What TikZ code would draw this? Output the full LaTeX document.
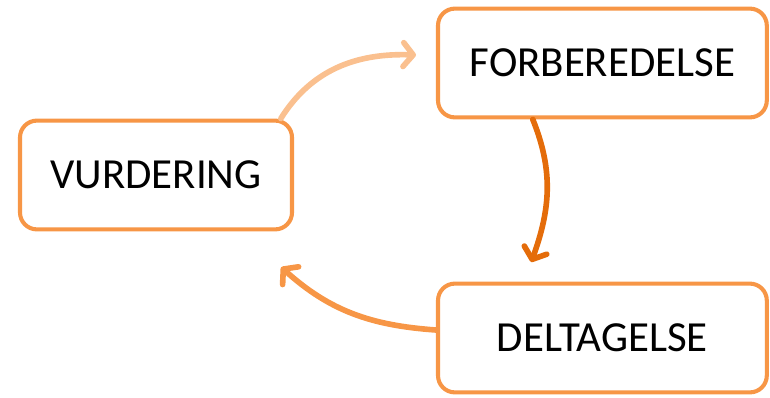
\documentclass[tikz,border=0pt]{standalone}
\usepackage{fontspec}
\setmainfont{Carlito}
\usetikzlibrary{arrows.meta}
\definecolor{kant}{HTML}{F79646}
\definecolor{lys}{HTML}{FAC08F}
\definecolor{mork}{HTML}{E46C0A}
\tikzset{
  fase/.style={draw=kant, line width=2.9pt, rounded corners=12pt, fill=white,
    minimum height=2.72cm, font=\fontsize{30.5}{36}\selectfont},
  pil/.style={line width=4pt, line cap=round,
    -{Straight Barb[length=7pt,width=17pt,line join=round,line cap=round]}}
}
\begin{document}
\begin{tikzpicture}
        \useasboundingbox (0,0) rectangle (19.25,-9.925);
        \node [fase, minimum width=6.8cm] (vur) at (3.9,-4.375) {VURDERING};
        \node [fase, minimum width=8.22cm] (forb) at (15.06,-1.575) {FORBEREDELSE};
        \node [fase, minimum width=8.22cm] (delt) at (15.06,-8.45) {DELTAGELSE};
        \coordinate (t1) at (10.4,-1.375);
        \coordinate (t2) at (13.28,-6.55);
        \coordinate (t3) at (7.03,-6.68);
        \draw [pil, lys] ([xshift=3.12cm]vur.north) to[out=58,in=178] (t1);
        \draw [pil, mork] ([xshift=-1.74cm]forb.south) to[out=-68,in=70] (t2);
        \draw [pil, kant] ([yshift=0.2cm]delt.west) to[out=176,in=-42] (t3);
    \end{tikzpicture}
\end{document}
